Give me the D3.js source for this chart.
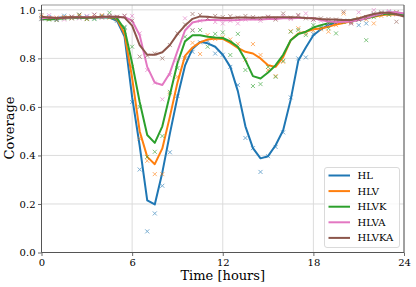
<!DOCTYPE html>
<html>
<head>
<meta charset="utf-8">
<script src="https://cdn.jsdelivr.net/npm/d3@7"></script>
<style>
  body { margin: 0; background: #fff; }
  svg { display: block; font-family: "DejaVu Serif", serif; }
</style>
</head>
<body>
<div id="wrapper"></div>
<script>
// half-hour steps for the smoothed lines
const lineHours = [0,0.5,1,1.5,2,2.5,3,3.5,4,4.5,5,5.5,6,6.5,7,7.5,8,8.5,9,9.5,10,10.5,11,11.5,
  12,12.5,13,13.5,14,14.5,15,15.5,16,16.5,17,17.5,18,18.5,19,19.5,20,20.5,21,21.5,22,22.5,23,23.5,24]
// raw measurements (x markers)
const pointHours = lineHours.slice(0, 48)

const seriesNames = ["HL", "HLV", "HLVK", "HLVA", "HLVKA"]
const seriesColors = ["#1f77b4", "#ff7f0e", "#2ca02c", "#e377c2", "#8c564b"]

const hlLine = [0.968,0.965,0.967,0.970,0.968,0.967,0.968,0.970,0.970,0.968,0.955,0.89,0.64,0.44,0.215,0.198,
  0.33,0.49,0.64,0.77,0.84,0.868,0.862,0.848,0.815,0.765,0.665,0.52,0.43,0.388,0.397,0.442,0.504,0.63,0.79,
  0.845,0.895,0.92,0.938,0.946,0.952,0.955,0.958,0.964,0.975,0.983,0.987,0.988,0.983]
const hlvLine = [0.968,0.968,0.965,0.968,0.970,0.968,0.968,0.970,0.972,0.970,0.962,0.90,0.72,0.50,0.394,0.364,
  0.429,0.56,0.70,0.81,0.845,0.866,0.878,0.882,0.88,0.864,0.843,0.827,0.82,0.80,0.772,0.765,0.805,0.875,0.903,
  0.91,0.92,0.923,0.93,0.94,0.946,0.953,0.96,0.965,0.972,0.978,0.982,0.98,0.977]
const hlvkLine = [0.962,0.960,0.962,0.965,0.966,0.967,0.966,0.968,0.970,0.970,0.965,0.92,0.78,0.62,0.484,0.452,
  0.52,0.65,0.78,0.87,0.895,0.895,0.889,0.886,0.884,0.87,0.848,0.793,0.727,0.717,0.742,0.772,0.815,0.875,0.90,
  0.91,0.927,0.937,0.945,0.951,0.955,0.958,0.962,0.965,0.973,0.982,0.985,0.982,0.978]
const hlvaLine = [0.965,0.968,0.966,0.967,0.968,0.970,0.969,0.970,0.971,0.972,0.972,0.970,0.955,0.895,0.765,0.70,
  0.69,0.74,0.83,0.915,0.948,0.955,0.958,0.958,0.957,0.957,0.958,0.96,0.96,0.96,0.962,0.962,0.965,0.965,0.966,
  0.966,0.965,0.958,0.952,0.95,0.951,0.952,0.958,0.965,0.976,0.985,0.99,0.99,0.985]
const hlvkaLine = [0.972,0.968,0.966,0.967,0.970,0.970,0.969,0.970,0.972,0.972,0.972,0.968,0.935,0.855,0.815,0.815,
  0.825,0.855,0.90,0.935,0.963,0.973,0.972,0.968,0.966,0.966,0.968,0.968,0.967,0.968,0.970,0.970,0.970,0.970,0.969,
  0.966,0.965,0.962,0.96,0.96,0.958,0.958,0.965,0.975,0.983,0.988,0.988,0.982,0.972]

const hlPoints = [0.965,0.970,0.962,0.976,0.965,0.968,0.972,0.965,0.975,0.970,0.955,0.926,0.62,0.342,0.087,0.161,
  0.275,0.413,0.645,0.80,0.827,0.866,0.872,0.82,0.815,0.765,0.69,0.472,0.43,0.332,0.397,0.435,0.495,0.639,0.80,
  0.804,0.90,0.925,0.945,0.95,0.955,0.95,0.937,0.944,0.98,0.985,0.99,0.99]
const hlvPoints = [0.972,0.962,0.968,0.970,0.965,0.975,0.962,0.970,0.978,0.968,0.96,0.91,0.765,0.47,0.378,0.323,
  0.323,0.656,0.724,0.80,0.864,0.818,0.896,0.88,0.887,0.878,0.86,0.795,0.859,0.814,0.752,0.727,0.786,0.912,0.924,
  0.903,0.915,0.92,0.91,0.937,0.985,0.95,0.965,0.96,0.944,0.975,0.98,0.99]
const hlvkPoints = [0.962,0.96,0.958,0.965,0.968,0.98,0.962,0.962,0.972,0.988,0.965,0.93,0.848,0.60,0.394,0.415,
  0.48,0.662,0.76,0.889,0.915,0.917,0.848,0.901,0.907,0.814,0.901,0.752,0.686,0.694,0.765,0.724,0.79,0.91,0.917,
  0.896,0.937,0.93,0.924,0.903,0.95,0.955,0.96,0.875,0.97,0.985,0.98,0.985]
const hlvaPoints = [0.962,0.978,0.965,0.96,0.972,0.965,0.975,0.98,0.97,0.976,0.97,0.974,0.975,0.903,0.752,0.70,
  0.631,0.731,0.793,0.965,0.917,0.955,0.965,0.95,0.944,0.955,0.944,0.96,0.965,0.955,0.97,0.965,0.975,0.962,0.975,
  0.985,0.96,0.955,0.94,0.95,0.955,0.945,0.99,0.97,0.999,0.985,0.995,0.98]
const hlvkaPoints = [0.979,0.965,0.958,0.968,0.972,0.98,0.965,0.98,0.968,0.975,0.972,0.976,0.955,0.807,0.811,0.82,
  0.80,0.855,0.903,0.94,0.983,0.979,0.965,0.975,0.97,0.974,0.968,0.975,0.97,0.965,0.972,0.96,0.985,0.968,0.979,
  0.965,0.96,0.965,0.962,0.96,0.992,0.944,0.96,0.97,0.985,0.99,0.985,0.951]

const xTicks = [0, 6, 12, 18, 24]
const yTicks = [0, 0.2, 0.4, 0.6, 0.8, 1.0]

function drawChart() {
  const lines = [hlLine, hlvLine, hlvkLine, hlvaLine, hlvkaLine]
  const points = [hlPoints, hlvPoints, hlvkPoints, hlvaPoints, hlvkaPoints]

  let dimensions = {
    width: 416,
    height: 287,
    margin: { top: 5, right: 12, bottom: 34.5, left: 41.5 },
  }
  dimensions.boundedWidth = dimensions.width - dimensions.margin.left - dimensions.margin.right
  dimensions.boundedHeight = dimensions.height - dimensions.margin.top - dimensions.margin.bottom

  const wrapper = d3.select("#wrapper").append("svg")
      .attr("width", dimensions.width)
      .attr("height", dimensions.height)

  const bounds = wrapper.append("g")
      .attr("transform", `translate(${dimensions.margin.left},${dimensions.margin.top})`)

  // scales
  const xScale = d3.scaleLinear()
      .domain([0, 24])
      .range([0, dimensions.boundedWidth])
  const yScale = d3.scaleLinear()
      .domain([0, 1.02])
      .range([dimensions.boundedHeight, 0])

  // grid
  bounds.append("g").selectAll("line")
      .data(xTicks).enter().append("line")
          .attr("x1", d => xScale(d)).attr("x2", d => xScale(d))
          .attr("y1", 0).attr("y2", dimensions.boundedHeight)
          .attr("stroke", "#dcdcdc").attr("stroke-width", 1)
  bounds.append("g").selectAll("line")
      .data(yTicks).enter().append("line")
          .attr("x1", 0).attr("x2", dimensions.boundedWidth)
          .attr("y1", d => yScale(d)).attr("y2", d => yScale(d))
          .attr("stroke", "#dcdcdc").attr("stroke-width", 1)

  const lineGenerator = d3.line()
      .x((d, i) => xScale(lineHours[i]))
      .y(d => yScale(d))

  seriesNames.forEach((name, s) => {
    const color = seriesColors[s]
    const marks = bounds.append("g")
        .attr("stroke", color)
        .attr("stroke-width", 1)
        .attr("opacity", 0.6)
    marks.selectAll("path")
        .data(points[s]).enter().append("path")
            .attr("d", (d, i) => {
              const cx = xScale(pointHours[i]), cy = yScale(d), r = 2
              return `M${cx - r},${cy - r}L${cx + r},${cy + r}M${cx - r},${cy + r}L${cx + r},${cy - r}`
            })
    bounds.append("path")
        .datum(lines[s])
        .attr("d", lineGenerator)
        .attr("fill", "none")
        .attr("stroke", color)
        .attr("stroke-width", 2)
        .attr("stroke-linejoin", "round")
  })

  // axes
  const xAxis = bounds.append("g")
      .attr("transform", `translate(0,${dimensions.boundedHeight})`)
      .call(d3.axisBottom(xScale).tickValues(xTicks).tickSize(3.5).tickPadding(2.5).tickFormat(d3.format("d")))
  const yAxis = bounds.append("g")
      .call(d3.axisLeft(yScale).tickValues(yTicks).tickSize(3.5).tickPadding(2.5).tickFormat(d3.format(".1f")))

  ;[xAxis, yAxis].forEach(ax => {
    ax.select(".domain").remove()
    ax.selectAll(".tick line").attr("stroke", "#444").attr("stroke-width", 0.8)
    ax.selectAll(".tick text")
        .attr("fill", "#000")
        .style("font-family", "DejaVu Serif")
        .style("font-size", "10px")
  })

  // spines
  const spine = (x1, y1, x2, y2, c) => bounds.append("line")
      .attr("x1", x1).attr("y1", y1).attr("x2", x2).attr("y2", y2)
      .attr("stroke", c).attr("stroke-width", 1)
  spine(0, 0, dimensions.boundedWidth, 0, "#999")
  spine(dimensions.boundedWidth, 0, dimensions.boundedWidth, dimensions.boundedHeight, "#555")
  spine(0, dimensions.boundedHeight, dimensions.boundedWidth, dimensions.boundedHeight, "#555")
  spine(0, 0, 0, dimensions.boundedHeight, "#555")

  // labels
  wrapper.append("text")
      .attr("x", dimensions.margin.left + dimensions.boundedWidth / 2)
      .attr("y", 280)
      .attr("text-anchor", "middle")
      .style("font-size", "13px")
      .text("Time [hours]")
  wrapper.append("text")
      .attr("transform", "translate(14,128) rotate(-90)")
      .attr("text-anchor", "middle")
      .style("font-size", "13px")
      .text("Coverage")

  // legend
  const legend = wrapper.append("g")
      .attr("transform", "translate(324.5,167.5)")
  legend.append("rect")
      .attr("width", 75).attr("height", 80).attr("rx", 2.5)
      .attr("fill", "#fff").attr("fill-opacity", 0.8)
      .attr("stroke", "#d0d0d0").attr("stroke-width", 0.8)
  const rows = legend.selectAll(".row")
      .data(seriesNames).enter().append("g")
          .attr("class", "row")
          .attr("transform", (d, i) => `translate(0,${8 + i * 15.6})`)
  rows.append("line")
      .attr("x1", 4).attr("x2", 25.5)
      .attr("stroke", (d, i) => seriesColors[i])
      .attr("stroke-width", 2)
  rows.append("text")
      .attr("x", 33)
      .attr("dy", "0.35em")
      .style("font-size", "10px")
      .text(d => d)
}
drawChart()
</script>
</body>
</html>
